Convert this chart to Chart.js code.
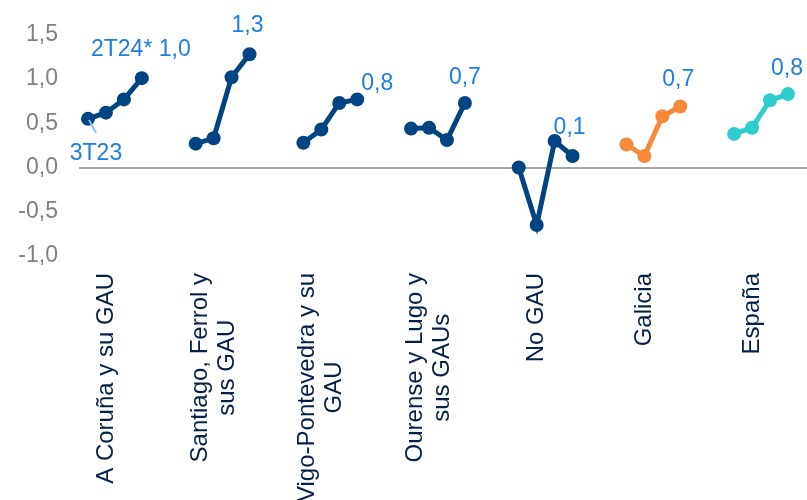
<!DOCTYPE html>
<html>
<head>
<meta charset="utf-8">
<script src="https://cdn.jsdelivr.net/npm/chart.js@4.4.1/dist/chart.umd.min.js"></script>
<style>
  html, body { margin: 0; padding: 0; background: #fff; }
  #wrap { width: 807px; height: 500px; }
</style>
</head>
<body>
<div id="wrap"><canvas id="chart"></canvas></div>
<script>
// quarters shown in every group, oldest first
const quarters = ['3T23', '4T23', '1T24', '2T24*'];

// region names (one array per label, one entry per text line)
const regions = [
    ['A Coruña y su GAU'],
    ['Santiago, Ferrol y', 'sus GAU'],
    ['Vigo-Pontevedra y su', 'GAU'],
    ['Ourense y Lugo y', 'sus GAUs'],
    ['No GAU'],
    ['Galicia'],
    ['España']
];

// quarterly values per region
const coruna      = [0.55, 0.62, 0.77, 1.01];
const santiago    = [0.27, 0.33, 1.02, 1.28];
const vigo        = [0.28, 0.43, 0.73, 0.77];
const ourenseLugo = [0.44, 0.45, 0.31, 0.73];
const noGau       = [0.00, -0.65, 0.30, 0.13];
const galicia     = [0.26, 0.13, 0.58, 0.69];
const espana      = [0.38, 0.45, 0.76, 0.83];

const seriesValues = [coruna, santiago, vigo, ourenseLugo, noGau, galicia, espana];

const yTicks = [-1.0, -0.5, 0.0, 0.5, 1.0, 1.5];

const NAVY = '#004481';
const seriesColors = [NAVY, NAVY, NAVY, NAVY, NAVY, '#F7893B', '#2DCCCD'];
const LABEL_BLUE = '#1A7FDF';
const FONT = "'Liberation Sans', Arial, sans-serif";

// each group takes 6 slots on the x scale: 4 quarters + 2 blank
const SLOTS = 6;

const fmt = v => v.toFixed(1).replace('.', ',');

// value labels placed relative to a point (offsets in px)
const pointLabels = [
    { group: 0, index: 3, text: quarters[3] + ' ' + fmt(coruna[3]), dx: -1, dy: -22 },
    { group: 0, index: 0, text: quarters[0], dx: 8, dy: 41, leader: [1, 1, 8, 14] },
    { group: 1, index: 3, text: fmt(santiago[3]), dx: -2, dy: -22 },
    { group: 2, index: 3, text: fmt(vigo[3]), dx: 20, dy: -9 },
    { group: 3, index: 3, text: fmt(ourenseLugo[3]), dx: 0, dy: -19 },
    { group: 4, index: 3, text: fmt(noGau[3]), dx: -3, dy: -22 },
    { group: 5, index: 3, text: fmt(galicia[3]), dx: -2, dy: -20 },
    { group: 6, index: 3, text: fmt(espana[3]), dx: -1, dy: -19 }
];

const datasets = seriesValues.map((vals, g) => ({
    data: vals.map((v, i) => ({ x: g * SLOTS + i, y: v })),
    borderColor: seriesColors[g],
    backgroundColor: seriesColors[g],
    pointBackgroundColor: seriesColors[g],
    borderWidth: 5,
    pointRadius: 7,
    pointBorderWidth: 0,
    tension: 0
}));

// rotated region names under the plot, lines centred on each other
const regionLabels = {
    id: 'regionLabels',
    afterDraw(chart) {
        const { ctx, scales: { x } } = chart;
        const top = 273, lineH = 27;
        ctx.save();
        ctx.font = '24px ' + FONT;
        ctx.fillStyle = '#072146';
        ctx.textAlign = 'center';
        ctx.textBaseline = 'middle';
        regions.forEach((lines, g) => {
            const px = x.getPixelForValue(g * SLOTS + 1);
            const maxW = Math.max(...lines.map(l => ctx.measureText(l).width));
            ctx.save();
            ctx.translate(px, top + maxW / 2);
            ctx.rotate(-Math.PI / 2);
            lines.forEach((l, k) => {
                ctx.fillText(l, 0, (k - (lines.length - 1) / 2) * lineH);
            });
            ctx.restore();
        });
        ctx.restore();
    }
};

// value / quarter annotations
const valueLabels = {
    id: 'valueLabels',
    afterDatasetsDraw(chart) {
        const { ctx } = chart;
        ctx.save();
        ctx.font = '23px ' + FONT;
        ctx.textAlign = 'center';
        ctx.textBaseline = 'alphabetic';
        pointLabels.forEach(lb => {
            const pt = chart.getDatasetMeta(lb.group).data[lb.index];
            if (lb.leader) {
                ctx.strokeStyle = '#7CC3F7';
                ctx.lineWidth = 2;
                ctx.beginPath();
                ctx.moveTo(pt.x + lb.leader[0], pt.y + lb.leader[1]);
                ctx.lineTo(pt.x + lb.leader[2], pt.y + lb.leader[3]);
                ctx.stroke();
            }
            ctx.fillStyle = LABEL_BLUE;
            ctx.fillText(lb.text, pt.x + lb.dx, pt.y + lb.dy);
        });
        ctx.restore();
    }
};

new Chart(document.getElementById('chart'), {
    type: 'line',
    data: { datasets },
    options: {
        responsive: true,
        maintainAspectRatio: false,
        animation: false,
        layout: { autoPadding: false, padding: { top: 30, bottom: 244, right: 0, left: 0 } },
        plugins: {
            legend: { display: false },
            tooltip: { enabled: false }
        },
        scales: {
            x: {
                type: 'linear',
                display: false,
                min: -0.5,
                max: 40.06
            },
            y: {
                min: yTicks[0],
                max: yTicks[yTicks.length - 1],
                afterBuildTicks: s => { s.ticks = yTicks.map(v => ({ value: v })); },
                afterFit: s => { s.width = 79; },
                border: { display: false },
                grid: {
                    drawTicks: false,
                    lineWidth: 2,
                    color: c => c.tick.value === 0 ? '#A6A6A6' : 'rgba(0,0,0,0)'
                },
                ticks: {
                    padding: 21,
                    color: '#808080',
                    font: { family: FONT, size: 23 },
                    callback: v => fmt(v)
                }
            }
        }
    },
    plugins: [regionLabels, valueLabels]
});
</script>
</body>
</html>
